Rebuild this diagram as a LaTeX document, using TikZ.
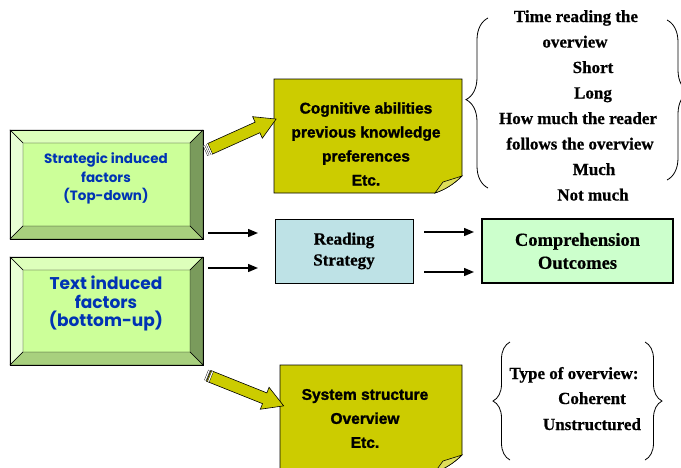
\documentclass[tikz,border=0pt]{standalone}
\usepackage{fontspec}
\setmainfont{Liberation Serif}
\newfontfamily\timesh{Liberation Serif Bold}[FakeBold=0.7]
\newfontfamily\arialh{Liberation Sans Bold}[FakeBold=1.6]
\newfontfamily\gothicf{Poppins}
\usetikzlibrary{arrows.meta,shapes.arrows,decorations.pathreplacing,calc}
\definecolor{face}{RGB}{204,255,153}
\definecolor{bvtop}{RGB}{221,255,187}
\definecolor{bvleft}{RGB}{232,255,212}
\definecolor{bvright}{RGB}{122,155,92}
\definecolor{bvbot}{RGB}{168,208,126}
\definecolor{olive}{RGB}{204,204,0}
\definecolor{flap}{RGB}{222,222,90}
\definecolor{rsblue}{RGB}{190,226,230}
\definecolor{cogreen}{RGB}{204,255,204}
\definecolor{txtblue}{RGB}{0,51,180}
\newcommand\bevelize[2]{%
  \filldraw[bvtop,draw=black,line width=0.4pt] (#1.north west) -- (#1.north east) -- ($(#1.north east)+(-#2,#2)$) -- ($(#1.north west)+(#2,#2)$) -- cycle;
  \filldraw[bvleft,draw=black,line width=0.4pt] (#1.north west) -- ($(#1.north west)+(#2,#2)$) -- ($(#1.south west)+(#2,-#2)$) -- (#1.south west) -- cycle;
  \filldraw[bvright,draw=black,line width=0.4pt] (#1.north east) -- (#1.south east) -- ($(#1.south east)+(-#2,-#2)$) -- ($(#1.north east)+(-#2,#2)$) -- cycle;
  \filldraw[bvbot,draw=black,line width=0.4pt] (#1.south west) -- ($(#1.south west)+(#2,-#2)$) -- ($(#1.south east)+(-#2,-#2)$) -- (#1.south east) -- cycle;
  \draw[black,line width=0.8pt] (#1.north west) rectangle (#1.south east);
}
\newcommand\notefill[1]{%
  \filldraw[notefill] (#1.north west) -- (#1.north east) -- ($(#1.south east)+(0,-17)$) .. controls ($(#1.south east)+(-9,-8)$) and ($(#1.south east)+(-18,-3)$) .. ($(#1.south east)+(-27,0)$) -- (#1.south west) -- cycle;
  \filldraw[flapfill] ($(#1.south east)+(-27,0)$) -- ($(#1.south east)+(-19,-11)$) -- ($(#1.south east)+(0,-17)$) .. controls ($(#1.south east)+(-9,-8)$) and ($(#1.south east)+(-18,-3)$) .. cycle;
}
\tikzset{
  bevelbox/.style={fill=face, inner sep=0pt, outer sep=0pt},
  bluetxt/.style={text=txtblue, align=center, inner sep=0pt},
  notebox/.style={inner sep=0pt, outer sep=0pt},
  notefill/.style={fill=olive, draw=black, line width=0.6pt},
  flapfill/.style={fill=flap, draw=black, line width=0.6pt},
  notetxt/.style={font={\arialh\fontsize{15.5}{24}\selectfont}, align=center, inner sep=0pt},
  blockarrow/.style={single arrow, single arrow head extend=6pt, single arrow tip angle=60, inner sep=5.5pt, minimum width=1pt, fill=olive, draw=black, line width=0.6pt, sloped, midway},
  stripe/.style={draw=black, line width=0.4pt, double=white, double distance=1.2pt},
  flatbox/.style={draw=black, inner sep=0pt, outer sep=0pt, align=center},
  arr/.style={-{Triangle[length=10pt,width=8pt]}, line width=1.4pt},
  bracetxt/.style={font={\timesh\fontsize{17}{20}\selectfont}, inner sep=0pt, anchor=base},
  brc/.style={decorate, line width=0.8pt},
}
\begin{document}
\begin{tikzpicture}[x=1pt,y=-1pt]
\useasboundingbox (0,0) rectangle (681,467);
\clip (0,0) rectangle (681,467);

% bevelled boxes
\node[bevelbox, minimum width=193pt, minimum height=109pt] (strat) at (106.5,184.5) {};
\bevelize{strat}{13}
\node[bluetxt, font={\gothicf\fontsize{13.5}{18.5}\selectfont\bfseries}] (strattxt) at (106,178.5) {Strategic induced\\factors\\(Top-down)};

\node[bevelbox, minimum width=193pt, minimum height=108pt] (textb) at (106.5,311) {};
\bevelize{textb}{13}
\node[bluetxt, font={\gothicf\fontsize{17}{18.5}\selectfont\bfseries}] (textbtxt) at (106,303.5) {Text induced\\factors\\(bottom-up)};

% notes
\node[notebox, minimum width=188pt, minimum height=114pt] (cog) at (368,136) {};
\notefill{cog}
\node[notetxt] (cogtxt) at (366,144) {Cognitive abilities\\previous knowledge\\preferences\\Etc.};

\node[notebox, minimum width=182pt, minimum height=107pt] (sys) at (371,418.5) {};
\notefill{sys}
\node[notetxt] (systxt) at (365,418.5) {System structure\\Overview\\Etc.};

% block arrows
\path (strat.north east) ++(0,22) coordinate (a1s);
\path (cog.north west) ++(0,41) coordinate (a1e);
\path (a1s) -- (a1e) node[blockarrow, minimum height=72.5pt] (ba1) {};
\coordinate (p1) at ($(a1s)!3.5pt!(a1e)$);
\coordinate (p2) at ($(a1s)!7pt!(a1e)$);
\draw[stripe] ($(p1)!5.5pt!90:(a1e)$) -- ($(p1)!5.5pt!-90:(a1e)$);
\draw[stripe] ($(p2)!5.5pt!90:(a1e)$) -- ($(p2)!5.5pt!-90:(a1e)$);

\path (textb.south east) ++(1,9) coordinate (a2s);
\path (sys.north west) ++(-1,39) coordinate (a2e);
\path (a2s) -- (a2e) node[blockarrow, minimum height=80.8pt] (ba2) {};
\coordinate (p3) at ($(a2s)!3.5pt!(a2e)$);
\coordinate (p4) at ($(a2s)!7pt!(a2e)$);
\draw[stripe] ($(p3)!5.5pt!90:(a2e)$) -- ($(p3)!5.5pt!-90:(a2e)$);
\draw[stripe] ($(p4)!5.5pt!90:(a2e)$) -- ($(p4)!5.5pt!-90:(a2e)$);

% flat boxes
\node[flatbox, fill=rsblue, line width=0.6pt, minimum width=138pt, minimum height=64pt,
      font={\timesh\fontsize{17}{21}\selectfont}] (rs) at (344,251) {Reading\\Strategy};
\node[flatbox, fill=cogreen, line width=1.2pt, minimum width=191pt, minimum height=64pt,
      font={\timesh\fontsize{18.5}{23}\selectfont}] (co) at (577.5,251) {Comprehension\\Outcomes};

% arrows
\coordinate (yA) at (0,233);
\coordinate (yB) at (0,268);
\coordinate (yC) at (0,232);
\coordinate (yD) at (0,272);
\draw[arr, shorten <=5pt, shorten >=17pt] (strat.east |- yA) -- (rs.west |- yA);
\draw[arr, shorten <=5pt, shorten >=17pt] (textb.east |- yB) -- (rs.west |- yB);
\draw[arr, shorten <=11pt, shorten >=8pt] (rs.east |- yC) -- (co.west |- yC);
\draw[arr, shorten <=11pt, shorten >=8pt] (rs.east |- yD) -- (co.west |- yD);

% top brace group
\draw[brc, decoration={brace, amplitude=22pt, aspect=0.52}] (488,188) -- (488,18);
\draw[brc, decoration={brace, amplitude=22pt, aspect=0.45}] (667,20) -- (667,180);
\node[bracetxt] (t1) at (576,22) {Time reading the};
\node[bracetxt] (t2) at (575,47.5) {overview};
\node[bracetxt] (t3) at (593,73) {Short};
\node[bracetxt] (t4) at (593,98.5) {Long};
\node[bracetxt] (t5) at (578,124) {How much the reader};
\node[bracetxt] (t6) at (580,149.5) {follows the overview};
\node[bracetxt] (t7) at (594,175) {Much};
\node[bracetxt] (t8) at (593,200.5) {Not much};

% bottom brace group
\draw[brc, decoration={brace, amplitude=17pt, aspect=0.5}] (510,460) -- (510,342);
\draw[brc, decoration={brace, amplitude=17pt, aspect=0.5}] (645,342) -- (645,460);
\node[bracetxt] (b1) at (574,379) {Type of overview:};
\node[bracetxt] (b2) at (592,404) {Coherent};
\node[bracetxt] (b3) at (592,430) {Unstructured};
\end{tikzpicture}
\end{document}
